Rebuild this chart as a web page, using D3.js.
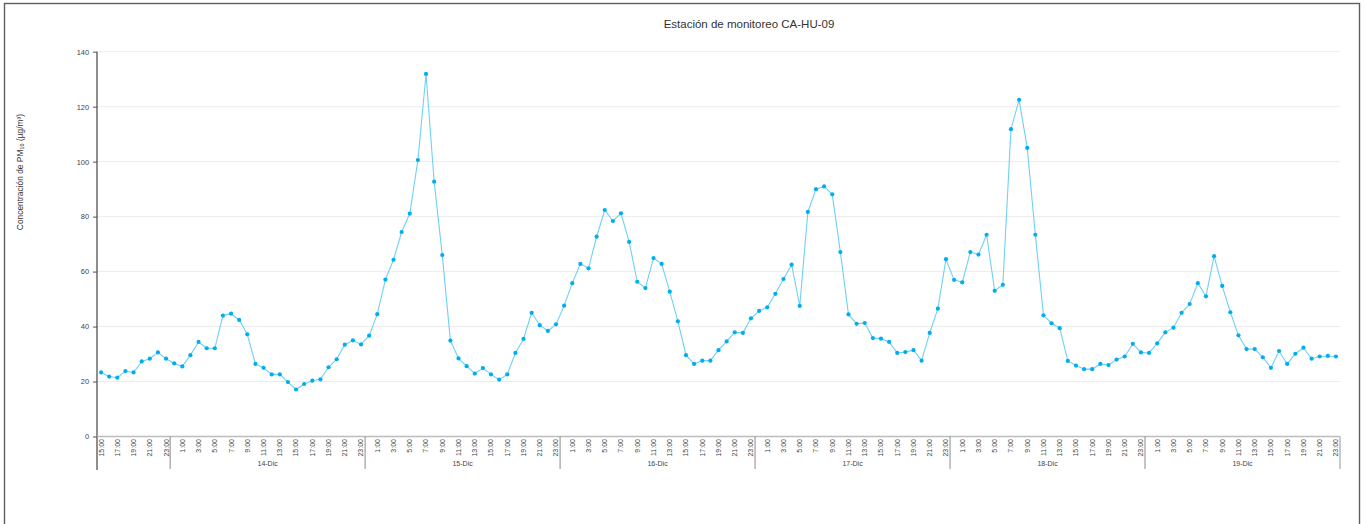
<!DOCTYPE html>
<html>
<head>
<meta charset="utf-8">
<script src="https://cdn.jsdelivr.net/npm/d3@7"></script>
<style>
  html, body { margin: 0; padding: 0; background: #fff; }
  svg { display: block; font-family: "Liberation Sans", Arial, sans-serif; }
</style>
</head>
<body>
<svg id="chart" width="1366" height="524"></svg>
<script>
// ---- data ----
const title = "Estación de monitoreo CA-HU-09";
const yLabel = "Concentración de PM₁₀ (µg/m³)";
const dayGroups = ["", "14-Dic", "15-Dic", "16-Dic", "17-Dic", "18-Dic", "19-Dic"];
const groupStartHour = [15, 0, 0, 0, 0, 0, 0];
const yTicks = [0, 20, 40, 60, 80, 100, 120, 140];
const pm10 = [
  // 13-Dic 15:00-23:00
  23.3, 21.8, 21.4, 23.8, 23.3, 27.3, 28.3, 30.6, 28.3,
  // 14-Dic
  26.6, 25.5, 29.6, 34.4, 32.1, 32.1, 44.0, 44.7, 42.4, 37.2, 26.4, 25.0,
  22.6, 22.6, 19.8, 17.1, 19.1, 20.3, 20.8, 25.2, 28.1, 33.4, 35.0, 33.5,
  // 15-Dic
  36.7, 44.5, 57.1, 64.3, 74.4, 81.1, 100.6, 131.9, 92.7, 66.0, 34.9, 28.4,
  25.6, 22.9, 24.9, 22.6, 20.7, 22.6, 30.4, 35.5, 45.0, 40.5, 38.4, 40.8,
  // 16-Dic
  47.6, 55.8, 62.8, 61.2, 72.7, 82.4, 78.4, 81.2, 70.8, 56.3, 54.0, 64.9,
  62.8, 52.7, 41.9, 29.6, 26.4, 27.6, 27.6, 31.4, 34.6, 37.9, 37.7, 43.0,
  // 17-Dic
  45.7, 47.0, 51.9, 57.3, 62.5, 47.5, 81.7, 90.0, 91.0, 88.1, 67.1, 44.4,
  41.0, 41.3, 35.8, 35.6, 34.4, 30.4, 30.7, 31.4, 27.6, 37.7, 46.5, 64.5,
  // 18-Dic
  57.0, 56.1, 67.1, 66.2, 73.4, 53.0, 55.2, 111.8, 122.5, 105.0, 73.4, 44.1,
  41.2, 39.4, 27.5, 25.8, 24.5, 24.5, 26.4, 26.0, 28.0, 29.1, 33.7, 30.6,
  // 19-Dic
  30.4, 33.9, 37.9, 39.6, 45.0, 48.2, 55.8, 51.0, 65.6, 54.8, 45.2, 36.8,
  31.8, 31.8, 28.8, 25.0, 31.1, 26.4, 30.1, 32.3, 28.3, 29.1, 29.3, 29.1
];

// categories (hour, group)
const categories = [];
dayGroups.forEach((d, g) => {
  for (let h = groupStartHour[g]; h < 24; h++) categories.push({ hour: h + ":00", group: g });
});

// ---- layout ----
const svg = d3.select("#chart");
const plotL = 97, plotR = 1340, plotT = 51.7, plotB = 436.5;

const x = d3.scaleBand().domain(d3.range(categories.length)).range([plotL, plotR]).padding(0);
const y = d3.scaleLinear().domain([0, 140]).range([plotB, plotT]);
const cx = i => x(i) + x.bandwidth() / 2;

// frame
svg.append("rect").attr("x", 4.5).attr("y", 3.5).attr("width", 1355).attr("height", 600)
  .attr("fill", "none").attr("stroke", "#5f5f5f").attr("stroke-width", 1.4);

// title
svg.append("text").attr("x", 749).attr("y", 28).attr("text-anchor", "middle")
  .attr("font-size", 11.5).attr("fill", "#333").text(title);

// y label
svg.append("text").attr("transform", "translate(23,172) rotate(-90)").attr("text-anchor", "middle")
  .attr("font-size", 8.4).attr("fill", "#333").text(yLabel);

// gridlines
svg.append("g").selectAll("line").data(yTicks.filter(t => t > 0)).join("line")
  .attr("x1", plotL).attr("x2", plotR).attr("y1", d => y(d)).attr("y2", d => y(d))
  .attr("stroke", "#ececec").attr("stroke-width", 1);

// y axis
const yAxis = svg.append("g").attr("transform", `translate(${plotL},0)`)
  .call(d3.axisLeft(y).tickValues(yTicks).tickSize(4).tickPadding(4));
yAxis.select(".domain").remove();
yAxis.selectAll(".tick line").attr("stroke", "#555");
yAxis.selectAll(".tick text").attr("font-size", 7.4).attr("fill", "#444")
  .attr("font-family", "Liberation Sans, Arial, sans-serif");
svg.append("line").attr("x1", plotL).attr("x2", plotL).attr("y1", plotT).attr("y2", 470)
  .attr("stroke", "#444").attr("stroke-width", 1.2);

// x axis baseline
svg.append("line").attr("x1", plotL).attr("x2", plotR).attr("y1", plotB).attr("y2", plotB)
  .attr("stroke", "#bdbdbd").attr("stroke-width", 1.6);

// hour tick labels (every other category)
svg.append("g").selectAll("text").data(categories.map((c, i) => ({ c, i })).filter(d => d.i % 2 === 0))
  .join("text")
  .attr("transform", d => `translate(${cx(d.i)},439) rotate(-90)`)
  .attr("text-anchor", "end").attr("dy", "0.35em")
  .attr("font-size", 7).attr("fill", "#444").text(d => d.c.hour);

// group separators and labels
const groupBounds = dayGroups.map((d, g) => {
  const idx = categories.map((c, i) => c.group === g ? i : -1).filter(i => i >= 0);
  return { label: d, start: x(idx[0]), end: x(idx[idx.length - 1]) + x.bandwidth() };
});
const sepXs = groupBounds.slice(1).map(b => b.start).concat([plotR]);
svg.append("g").selectAll("line").data(sepXs)
  .join("line")
  .attr("x1", d => d).attr("x2", d => d).attr("y1", plotB).attr("y2", 469)
  .attr("stroke", (d, i) => i === sepXs.length - 1 ? "#bdbdbd" : "#8a8a8a")
  .attr("stroke-width", (d, i) => i === sepXs.length - 1 ? 1.6 : 1);
svg.append("g").selectAll("text").data(groupBounds).join("text")
  .attr("x", d => (d.start + d.end) / 2).attr("y", 466).attr("text-anchor", "middle")
  .attr("font-size", 7).attr("fill", "#444").text(d => d.label);

// series line
const line = d3.line().x((d, i) => cx(i)).y(d => y(d));
svg.append("path").datum(pm10).attr("d", line).attr("fill", "none")
  .attr("stroke", "#6fd0f4").attr("stroke-width", 1.1);

// markers
svg.append("g").selectAll("circle").data(pm10).join("circle")
  .attr("cx", (d, i) => cx(i)).attr("cy", d => y(d)).attr("r", 2.1)
  .attr("fill", "#00aeef");
</script>
</body>
</html>
